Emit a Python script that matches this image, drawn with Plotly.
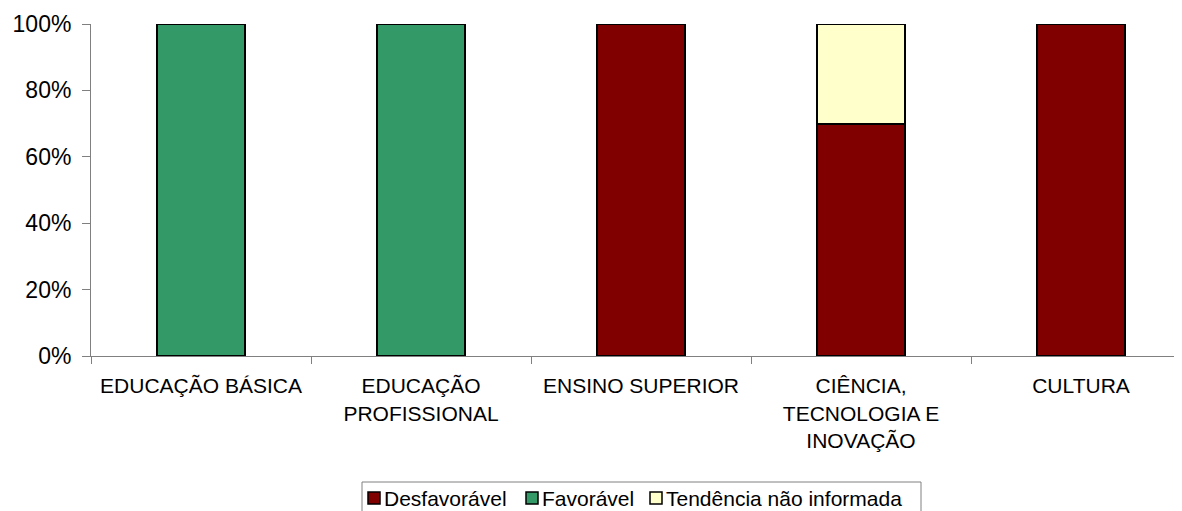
import plotly.graph_objects as go

categories = ["EDUCAÇÃO BÁSICA", "EDUCAÇÃO<br>PROFISSIONAL", "ENSINO SUPERIOR",
              "CIÊNCIA,<br>TECNOLOGIA E<br>INOVAÇÃO", "CULTURA"]
series_names = ["Desfavorável", "Favorável", "Tendência não informada"]
desfavoravel = [None, None, 100, 70, 100]
favoravel = [100, 100, None, None, None]
tendencia = [None, None, None, 30, None]
colors = ["#800000", "#339966", "#FFFFCC"]
y_ticks = [0, 20, 40, 60, 80, 100]
y_ticklabels = ["0%", "20%", "40%", "60%", "80%", "100%"]

# page body adds an 8px offset; figure coordinates = screen coordinates - 8
OFF = 8
W, H = 1182 - OFF, 511 - OFF
L, R, T, B = 91 - OFF, 0, 24 - OFF, H - (356 - OFF)
PW, PH = W - L - R, H - T - B

fig = go.Figure()
for name, vals, col in zip(series_names, [desfavoravel, favoravel, tendencia], colors):
    fig.add_trace(go.Bar(name=name, x=categories, y=vals,
                         marker=dict(color=col, line=dict(color="black", width=2))))

def px_x(p):
    return (p - OFF - L) / PW

def px_y(p):
    return (H - B - (p - OFF)) / PH

# legend drawn as box, swatches and labels
shapes = [dict(type="rect", xref="paper", yref="paper",
               x0=px_x(362), x1=px_x(921), y0=px_y(482), y1=px_y(520),
               line=dict(color="#808080", width=1), fillcolor="white", layer="below")]
annotations = []
swatch_x = [368, 526, 650]
for sx, name, col in zip(swatch_x, series_names, colors):
    shapes.append(dict(type="rect", xref="paper", yref="paper",
                       x0=px_x(sx), x1=px_x(sx + 12), y0=px_y(504), y1=px_y(492),
                       line=dict(color="black", width=1.5), fillcolor=col))
    annotations.append(dict(text=name, xref="paper", yref="paper",
                            x=px_x(sx + 14), y=px_y(498), xanchor="left", yanchor="middle",
                            showarrow=False, font=dict(size=21, color="black")))

fig.update_layout(
    barmode="stack", bargap=0.6,
    width=W, height=H,
    margin=dict(l=L, r=R, t=T, b=B, autoexpand=False),
    plot_bgcolor="white", paper_bgcolor="white",
    font=dict(family="Liberation Sans, Arial", color="black", size=21),
    showlegend=False,
    shapes=shapes, annotations=annotations,
)
fig.update_yaxes(range=[0, 100], tickvals=y_ticks, ticktext=y_ticklabels,
                 ticks="outside", ticklen=8, tickcolor="#808080", tickwidth=1,
                 showline=True, linecolor="#808080", linewidth=1,
                 showgrid=False, zeroline=False, tickfont=dict(size=23),
                 ticklabelstandoff=6, automargin=False)
fig.update_xaxes(range=[-0.5, -0.5 + PW / 220], ticks="outside", tickson="boundaries",
                 ticklen=7, tickcolor="#808080", tickwidth=1,
                 showline=True, linecolor="#808080", linewidth=1,
                 showgrid=False, tickfont=dict(size=21), tickangle=0,
                 ticklabelstandoff=11, automargin=False)

fig.write_html("out.html")
